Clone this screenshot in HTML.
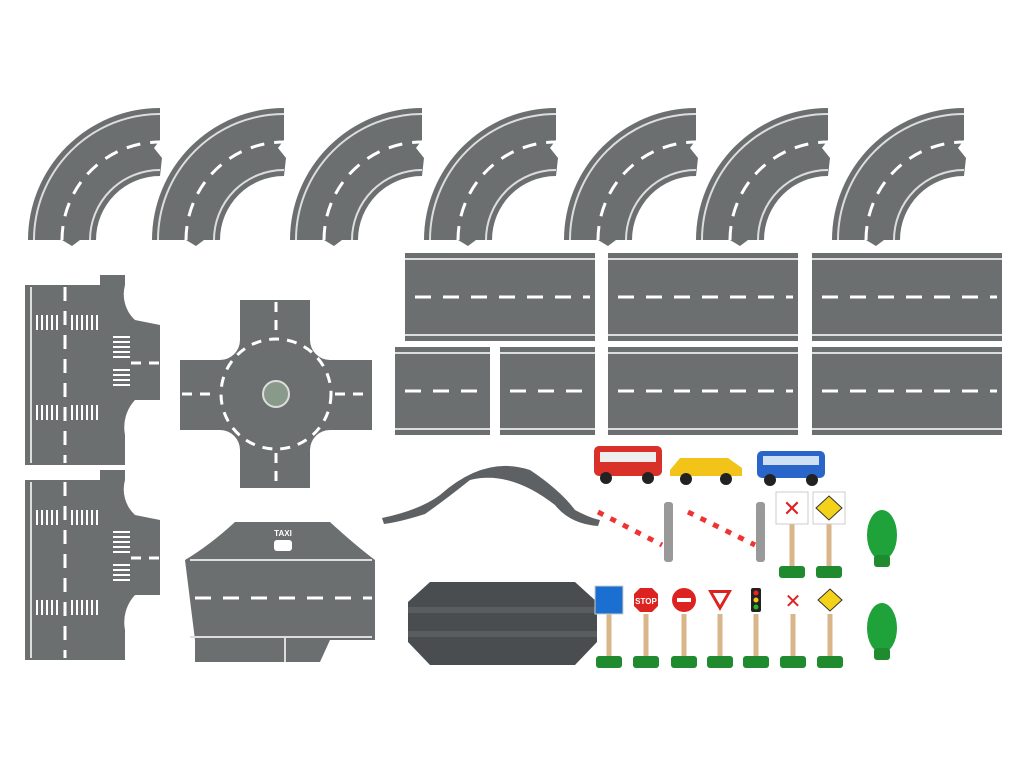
<!DOCTYPE html>
<html><head><meta charset="utf-8"><style>
html,body{margin:0;padding:0;background:#fff;width:1024px;height:768px;overflow:hidden}
svg{display:block}
</style></head><body>
<svg width="1024" height="768" viewBox="0 0 1024 768" xmlns="http://www.w3.org/2000/svg">
<defs>
<g id="curve">
 <path d="M0,140 A132,132 0 0 1 132,8 L132,40 L126,48 L134,58 L132,76 A64,64 0 0 0 68,140 L52,140 L44,146 L34,140 Z" fill="#6c6f70"/>
 <path d="M6,140 A126,126 0 0 1 132,14" fill="none" stroke="#ddd" stroke-width="2"/>
 <path d="M62,140 A70,70 0 0 1 132,70" fill="none" stroke="#ddd" stroke-width="2"/>
 <path d="M34,140 A98,98 0 0 1 132,42" fill="none" stroke="#fff" stroke-width="3" stroke-dasharray="14 10"/>
</g>
<g id="straight">
 <rect x="0" y="0" width="190" height="88" fill="#6c6f70"/>
 <line x1="0" y1="6" x2="190" y2="6" stroke="#ddd" stroke-width="2"/>
 <line x1="0" y1="82" x2="190" y2="82" stroke="#ddd" stroke-width="2"/>
 <line x1="10" y1="44" x2="185" y2="44" stroke="#fff" stroke-width="3" stroke-dasharray="16 12"/>
</g>
<g id="short">
 <rect x="0" y="0" width="95" height="88" fill="#6c6f70"/>
 <line x1="0" y1="6" x2="95" y2="6" stroke="#ddd" stroke-width="2"/>
 <line x1="0" y1="82" x2="95" y2="82" stroke="#ddd" stroke-width="2"/>
 <line x1="10" y1="44" x2="90" y2="44" stroke="#fff" stroke-width="3" stroke-dasharray="16 12"/>
</g>
<g id="tee">
 <path d="M0,10 L75,10 L75,0 L100,0 L100,10 A35,35 0 0 0 110,45 L135,50 L135,125 L110,125 A40,40 0 0 0 100,160 L100,190 L0,190 Z" fill="#6c6f70"/>
 <line x1="40" y1="12" x2="40" y2="188" stroke="#fff" stroke-width="3" stroke-dasharray="14 10"/>
 <line x1="6" y1="12" x2="6" y2="188" stroke="#ddd" stroke-width="2"/>
 <line x1="106" y1="88" x2="135" y2="88" stroke="#fff" stroke-width="3" stroke-dasharray="10 8"/>
 <g stroke="#fff" stroke-width="2">
  <line x1="12" y1="40" x2="12" y2="55"/><line x1="17" y1="40" x2="17" y2="55"/><line x1="22" y1="40" x2="22" y2="55"/><line x1="27" y1="40" x2="27" y2="55"/><line x1="32" y1="40" x2="32" y2="55"/><line x1="47" y1="40" x2="47" y2="55"/><line x1="52" y1="40" x2="52" y2="55"/><line x1="57" y1="40" x2="57" y2="55"/><line x1="62" y1="40" x2="62" y2="55"/><line x1="67" y1="40" x2="67" y2="55"/><line x1="72" y1="40" x2="72" y2="55"/>
  <line x1="12" y1="130" x2="12" y2="145"/><line x1="17" y1="130" x2="17" y2="145"/><line x1="22" y1="130" x2="22" y2="145"/><line x1="27" y1="130" x2="27" y2="145"/><line x1="32" y1="130" x2="32" y2="145"/><line x1="47" y1="130" x2="47" y2="145"/><line x1="52" y1="130" x2="52" y2="145"/><line x1="57" y1="130" x2="57" y2="145"/><line x1="62" y1="130" x2="62" y2="145"/><line x1="67" y1="130" x2="67" y2="145"/><line x1="72" y1="130" x2="72" y2="145"/>
  <line x1="88" y1="62" x2="105" y2="62"/><line x1="88" y1="67" x2="105" y2="67"/><line x1="88" y1="72" x2="105" y2="72"/><line x1="88" y1="77" x2="105" y2="77"/><line x1="88" y1="82" x2="105" y2="82"/><line x1="88" y1="95" x2="105" y2="95"/><line x1="88" y1="100" x2="105" y2="100"/><line x1="88" y1="105" x2="105" y2="105"/><line x1="88" y1="110" x2="105" y2="110"/>
 </g>
</g>
<g id="sign">
 <rect x="-2.5" y="0" width="5" height="50" fill="#d9b68a"/>
 <rect x="-13" y="46" width="26" height="12" rx="3" fill="#1f8a2e"/>
</g>
</defs>

<!-- curves -->
<use href="#curve" x="28" y="100"/>
<use href="#curve" x="152" y="100"/>
<use href="#curve" x="290" y="100"/>
<use href="#curve" x="424" y="100"/>
<use href="#curve" x="564" y="100"/>
<use href="#curve" x="696" y="100"/>
<use href="#curve" x="832" y="100"/>

<!-- straights -->
<use href="#straight" x="405" y="253"/>
<use href="#straight" x="608" y="253"/>
<use href="#straight" x="812" y="253"/>
<use href="#short" x="395" y="347"/>
<use href="#short" x="500" y="347"/>
<use href="#straight" x="608" y="347"/>
<use href="#straight" x="812" y="347"/>

<!-- tee pieces -->
<use href="#tee" x="25" y="275"/>
<use href="#tee" x="25" y="470"/>

<!-- crossroads -->
<path d="M240,300 L310,300 L310,340 A20,20 0 0 0 330,360 L372,360 L372,430 L330,430 A20,20 0 0 0 310,450 L310,488 L240,488 L240,450 A20,20 0 0 0 220,430 L180,430 L180,360 L220,360 A20,20 0 0 0 240,340 Z" fill="#6c6f70"/>
<circle cx="276" cy="394" r="55" fill="none" stroke="#fff" stroke-width="3" stroke-dasharray="10 8"/>
<circle cx="276" cy="394" r="13" fill="#8a9a8a" stroke="#ddd" stroke-width="2"/>
<g stroke="#fff" stroke-width="3" stroke-dasharray="10 8">
<line x1="276" y1="302" x2="276" y2="335"/><line x1="276" y1="453" x2="276" y2="486"/>
<line x1="182" y1="394" x2="217" y2="394"/><line x1="335" y1="394" x2="370" y2="394"/>
</g>

<!-- bridge -->
<path d="M382,518 Q420,510 440,495 Q485,455 530,470 Q560,490 575,510 Q590,518 600,520 L598,526 Q570,524 555,505 Q510,470 470,480 Q445,500 425,514 Q400,522 384,524 Z" fill="#5e6163"/>

<!-- taxi piece -->
<path d="M235,522 L330,522 Q355,545 375,560 L375,640 L330,640 L320,662 L195,662 L195,640 L185,560 Q210,545 235,522 Z" fill="#6c6f70"/>
<line x1="190" y1="560" x2="372" y2="560" stroke="#ddd" stroke-width="2"/>
<line x1="190" y1="637" x2="372" y2="637" stroke="#ddd" stroke-width="2"/>
<line x1="195" y1="598" x2="372" y2="598" stroke="#fff" stroke-width="3" stroke-dasharray="16 12"/>
<line x1="285" y1="638" x2="285" y2="662" stroke="#ddd" stroke-width="2"/>
<text x="283" y="536" font-family="Liberation Sans, sans-serif" font-size="8" font-weight="bold" fill="#fff" text-anchor="middle">TAXI</text>
<rect x="274" y="540" width="18" height="11" rx="3" fill="#fff"/>

<!-- rail crossing piece -->
<path d="M430,582 L575,582 L597,602 L597,642 L575,665 L430,665 L408,642 L408,602 Z" fill="#4a4d50"/>
<rect x="408" y="607" width="189" height="6" fill="#5a5d60"/>
<rect x="408" y="631" width="189" height="6" fill="#5a5d60"/>

<!-- vehicles -->
<rect x="594" y="446" width="68" height="30" rx="5" fill="#d9302a"/>
<rect x="600" y="452" width="56" height="10" fill="#eee"/>
<circle cx="606" cy="478" r="6" fill="#222"/><circle cx="648" cy="478" r="6" fill="#222"/>
<path d="M670,470 L680,458 L728,458 L742,468 L742,476 L670,476 Z" fill="#f2c318"/>
<circle cx="686" cy="479" r="6" fill="#222"/><circle cx="726" cy="479" r="6" fill="#222"/>
<rect x="757" y="451" width="68" height="27" rx="5" fill="#2a66c9"/>
<rect x="763" y="456" width="56" height="9" fill="#cfe0f5"/>
<circle cx="770" cy="480" r="6" fill="#222"/><circle cx="812" cy="480" r="6" fill="#222"/>

<!-- barriers -->
<line x1="598" y1="512" x2="662" y2="545" stroke="#e33" stroke-width="5" stroke-dasharray="8 6"/>
<line x1="598" y1="512" x2="662" y2="545" stroke="#fff" stroke-width="5" stroke-dasharray="6 8" stroke-dashoffset="8"/>
<rect x="664" y="502" width="9" height="60" rx="3" fill="#999"/>
<line x1="688" y1="512" x2="755" y2="545" stroke="#e33" stroke-width="5" stroke-dasharray="8 6"/>
<line x1="688" y1="512" x2="755" y2="545" stroke="#fff" stroke-width="5" stroke-dasharray="6 8" stroke-dashoffset="8"/>
<rect x="756" y="502" width="9" height="60" rx="3" fill="#999"/>

<!-- upper signs -->
<use href="#sign" x="792" y="520"/>
<rect x="776" y="492" width="32" height="32" fill="#fff" stroke="#ccc"/>
<text x="792" y="516" font-family="Liberation Sans, sans-serif" font-size="22" fill="#d22" text-anchor="middle">✕</text>
<use href="#sign" x="829" y="520"/>
<rect x="813" y="492" width="32" height="32" fill="#fff" stroke="#ccc"/>
<path d="M829,496 L842,508 L829,520 L816,508 Z" fill="#f5d21a" stroke="#333"/>

<!-- trees -->
<ellipse cx="882" cy="535" rx="15" ry="25" fill="#1fa23a"/>
<rect x="874" y="555" width="16" height="12" rx="3" fill="#1f8a2e"/>
<ellipse cx="882" cy="628" rx="15" ry="25" fill="#1fa23a"/>
<rect x="874" y="648" width="16" height="12" rx="3" fill="#1f8a2e"/>

<!-- lower signs -->
<use href="#sign" x="609" y="610"/>
<rect x="595" y="586" width="28" height="28" fill="#1a6fd0" stroke="#ccc"/>
<use href="#sign" x="646" y="610"/>
<rect x="632" y="586" width="28" height="28" fill="#fff"/>
<path d="M640,588 L652,588 L658,594 L658,606 L652,612 L640,612 L634,606 L634,594 Z" fill="#d22"/>
<text x="646" y="604" font-family="Liberation Sans, sans-serif" font-size="8" font-weight="bold" fill="#fff" text-anchor="middle">STOP</text>
<use href="#sign" x="684" y="610"/>
<rect x="670" y="586" width="28" height="28" fill="#fff"/>
<circle cx="684" cy="600" r="12" fill="#d22"/><rect x="677" y="598" width="14" height="4" fill="#fff"/>
<use href="#sign" x="720" y="610"/>
<rect x="706" y="586" width="28" height="28" fill="#fff"/>
<path d="M708,590 L732,590 L720,611 Z" fill="#d22"/><path d="M713,593 L727,593 L720,605 Z" fill="#fff"/>
<use href="#sign" x="756" y="610"/>
<rect x="742" y="586" width="28" height="28" fill="#fff"/>
<rect x="751" y="588" width="10" height="24" rx="2" fill="#222"/>
<circle cx="756" cy="593" r="2.5" fill="#e22"/><circle cx="756" cy="600" r="2.5" fill="#f5c518"/><circle cx="756" cy="607" r="2.5" fill="#2b2"/>
<use href="#sign" x="793" y="610"/>
<rect x="779" y="586" width="28" height="28" fill="#fff"/>
<text x="793" y="608" font-family="Liberation Sans, sans-serif" font-size="20" fill="#d22" text-anchor="middle">✕</text>
<use href="#sign" x="830" y="610"/>
<rect x="816" y="586" width="28" height="28" fill="#fff"/>
<path d="M830,589 L842,600 L830,611 L818,600 Z" fill="#f5d21a" stroke="#333"/>
</svg>
</body></html>
